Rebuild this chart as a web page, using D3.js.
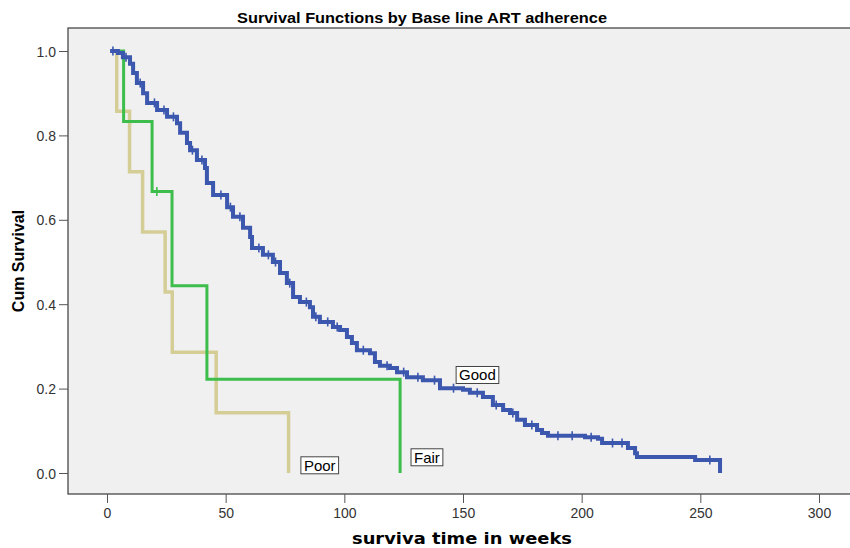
<!DOCTYPE html>
<html>
<head>
<meta charset="utf-8">
<script src="https://cdn.jsdelivr.net/npm/d3@7/dist/d3.min.js"></script>
<style>
  body { margin: 0; background: #fff; }
  svg { display: block; }
  text { font-family: "Liberation Sans", Arial, sans-serif; }
</style>
</head>
<body>
<div class="container"></div>
<script>
// survival steps: [weeks, cum survival]
const goodSteps = [
  [1.3, 1.0], [4.6, 0.995], [6.7, 0.985], [9.7, 0.970], [11.0, 0.948], [12.6, 0.924],
  [15.2, 0.900], [16.9, 0.877], [21.1, 0.860], [25.3, 0.844], [29.5, 0.829], [30.8, 0.806],
  [33.7, 0.782], [35.0, 0.765], [37.9, 0.742], [41.3, 0.723], [42.1, 0.687], [44.7, 0.659],
  [50.6, 0.630], [53.1, 0.607], [57.3, 0.581], [60.3, 0.559], [61.1, 0.533], [65.7, 0.517],
  [69.9, 0.500], [72.9, 0.474], [75.8, 0.450], [78.4, 0.417], [81.3, 0.405], [85.5, 0.393],
  [86.8, 0.370], [89.7, 0.358], [95.2, 0.346], [98.2, 0.339], [101.1, 0.322], [103.2, 0.308],
  [105.3, 0.291], [110.8, 0.284], [112.9, 0.263], [115.0, 0.254], [119.2, 0.249], [122.2, 0.239],
  [126.4, 0.227], [133.1, 0.220], [140.3, 0.201], [150.0, 0.197], [152.9, 0.190], [158.4, 0.180],
  [162.6, 0.161], [166.9, 0.149], [169.8, 0.142], [172.8, 0.126], [176.1, 0.114], [181.2, 0.102],
  [183.3, 0.095], [185.8, 0.088], [201.4, 0.085], [206.9, 0.081], [208.6, 0.071], [219.5, 0.059],
  [222.5, 0.047], [223.3, 0.038], [247.8, 0.031], [258.3, 0]
];
const fairSteps = [[4.5, 1.0], [7, 0.833], [19, 0.667], [27.4, 0.444], [42.1, 0.222], [123.5, 0]];
const poorSteps = [[3, 1.0], [4.1, 0.857], [9.5, 0.714], [15, 0.571], [24.5, 0.429], [27.5, 0.286], [46, 0.143], [76.5, 0]];

// censored times (+ marks)
const goodCensored = [2.5, 8, 14, 20, 24, 28, 36, 40, 48, 52, 56, 64, 68, 71, 77, 84, 88, 93, 97,
  108, 118, 125, 131, 138, 146, 156, 164, 171, 179, 190, 196, 204, 213, 217, 254];
const fairCensored = [21];
const poorCensored = [];

const groupNames = ['Poor', 'Fair', 'Good'];
const groupColors = ['#d5cd96', '#3dbd4b', '#3c57ae'];
// label anchor (left, middle of box) in data units
const labelPos = [[81.7, 0.018], [128.1, 0.037], [147.1, 0.232]];

const xTicks = [0, 50, 100, 150, 200, 250, 300];
const yTicks = [0, 0.2, 0.4, 0.6, 0.8, 1.0];

const width = 850, height = 548;
const frame = { left: 68, top: 28, right: 852, bottom: 494 };

const svg = d3.select('.container').append('svg')
  .attr('width', width)
  .attr('height', height);

const x = d3.scaleLinear().domain([0, 300]).range([107, 819]);
const y = d3.scaleLinear().domain([0, 1]).range([473, 51]);

svg.append('rect')
  .attr('x', frame.left).attr('y', frame.top)
  .attr('width', frame.right - frame.left).attr('height', frame.bottom - frame.top)
  .attr('fill', '#f0f0f0').attr('stroke', '#3a3a3a').attr('stroke-width', 1.2);

// title
svg.append('text')
  .attr('x', 422).attr('y', 23)
  .attr('text-anchor', 'middle')
  .style('font-family', '"Liberation Sans Narrow", "Arial Narrow", sans-serif')
  .style('font-weight', 'bold').style('font-size', '14px')
  .attr('textLength', 370).attr('lengthAdjust', 'spacingAndGlyphs')
  .text('Survival Functions by Base line ART adherence');

// axes
const yAxis = svg.append('g')
  .attr('transform', `translate(${frame.left},0)`)
  .call(d3.axisLeft(y).tickValues(yTicks).tickFormat(d3.format('.1f')).tickSize(9).tickPadding(3));
yAxis.select('.domain').remove();
yAxis.selectAll('text').style('font-size', '14px').attr('fill', '#333').attr('dy', '0.36em');
yAxis.selectAll('line').attr('stroke', '#555');

const xAxis = svg.append('g')
  .attr('transform', `translate(0,${frame.bottom})`)
  .call(d3.axisBottom(x).tickValues(xTicks).tickSize(9).tickPadding(5));
xAxis.select('.domain').remove();
xAxis.selectAll('text').style('font-size', '14px').attr('fill', '#333');
xAxis.selectAll('line').attr('stroke', '#555');

svg.append('text')
  .attr('transform', 'translate(24,261) rotate(-90)')
  .attr('text-anchor', 'middle')
  .style('font-weight', 'bold').style('font-size', '16px')
  .text('Cum Survival');

svg.append('text')
  .attr('x', 462).attr('y', 544)
  .attr('text-anchor', 'middle')
  .style('font-family', '"DejaVu Sans", Verdana, sans-serif')
  .style('font-weight', 'bold').style('font-size', '16px')
  .attr('textLength', 220).attr('lengthAdjust', 'spacingAndGlyphs')
  .text('surviva time in weeks');

// curves
const line = d3.line()
  .x(d => x(d[0]))
  .y(d => y(d[1]))
  .curve(d3.curveStepAfter);

const stepsAll = [poorSteps, fairSteps, goodSteps];
const censAll = [poorCensored, fairCensored, goodCensored];
const widths = [3.5, 3, 4];

const survAt = (steps, t) => {
  let s = steps[0][1];
  steps.forEach(p => { if (p[0] <= t) s = p[1]; });
  return s;
};

stepsAll.forEach((steps, i) => {
  const g = svg.append('g');
  g.append('path')
    .attr('d', line(steps))
    .attr('fill', 'none')
    .attr('stroke', groupColors[i])
    .attr('stroke-width', widths[i]);
  g.selectAll('line')
    .data(censAll[i])
    .enter()
    .append('line')
    .attr('x1', d => x(d)).attr('x2', d => x(d))
    .attr('y1', d => y(survAt(steps, d)) - 4.5)
    .attr('y2', d => y(survAt(steps, d)) + 4.5)
    .attr('stroke', groupColors[i])
    .attr('stroke-width', 1.6);
});

// labels
groupNames.forEach((name, i) => {
  const g = svg.append('g');
  const t = g.append('text')
    .attr('x', x(labelPos[i][0]) + 3)
    .attr('y', y(labelPos[i][1]))
    .attr('dy', '0.36em')
    .style('font-size', '15px')
    .attr('fill', '#000')
    .text(name);
  const b = t.node().getBBox();
  g.insert('rect', 'text')
    .attr('x', b.x - 3).attr('y', b.y)
    .attr('width', b.width + 6).attr('height', b.height)
    .attr('fill', '#fff').attr('stroke', '#444').attr('stroke-width', 1);
});
</script>
</body>
</html>
